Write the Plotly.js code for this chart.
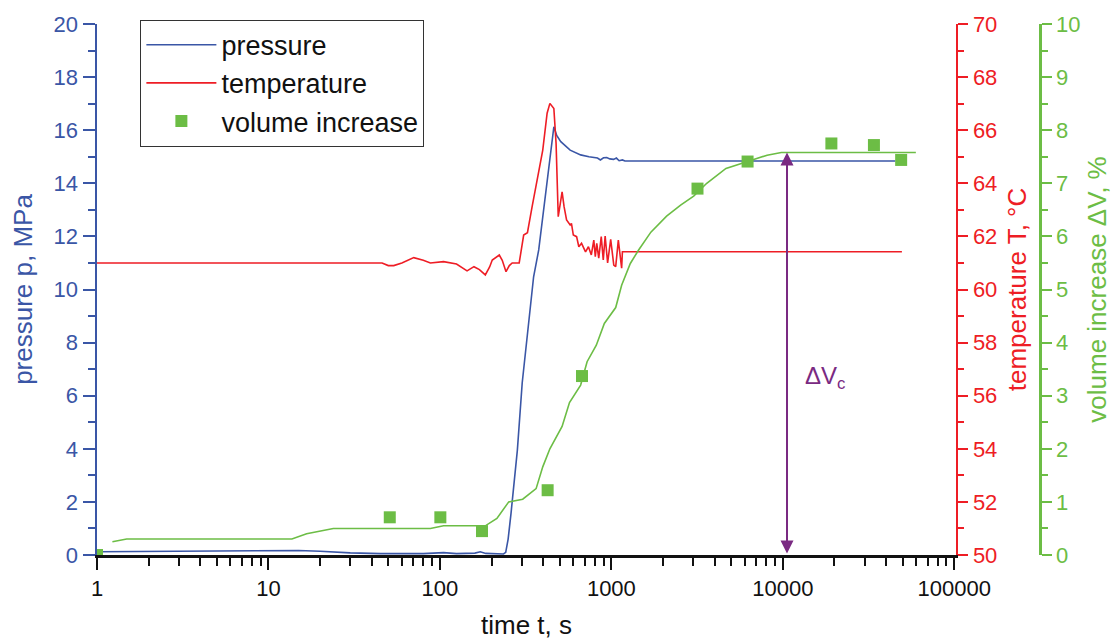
<!DOCTYPE html>
<html>
<head>
<meta charset="utf-8">
<script src="https://cdn.plot.ly/plotly-3.0.1.min.js"></script>
<style>html,body{margin:0;padding:0;background:#fff;}#chart{width:1113px;height:642px;}</style>
</head>
<body>
<div id="chart"></div>
<script>
// ---- data ----
var pressureTime = [1,5,10,15,20,30,45,80,105,125,160,172,185,235,242,250,260,283,302,324,352,377,420,462,480,507,575,662,740,794,830,863,900,940,980,1030,1070,1110,1160,1200,45300];
var pressureMPa  = [0.12,0.14,0.16,0.17,0.14,0.08,0.05,0.05,0.09,0.05,0.07,0.12,0.06,0.04,0.1,0.6,1.58,3.95,6.48,8.35,10.48,11.49,13.9,16.13,15.8,15.57,15.25,15.07,15.0,14.98,14.95,14.88,14.96,14.97,14.92,14.9,14.95,14.85,14.88,14.84,14.84];

var tempTime = [1,46,50,53.8,60,70.4,80,88,105,115,125,144,158,170,184,195,202,222,231,243,254,264,275,290,308,324,345,366,398,422,438,462,476,490,516,530,548,575,585,600,627,646,670,707,735,764,790,806,822,844,873,897,920,951,991,1033,1060,1098,1135,1148,1160,49500];
var tempC    = [61.0,61.0,60.9,60.9,61.0,61.2,61.1,61.0,61.05,61.0,60.96,60.70,60.86,60.75,60.55,60.85,61.11,61.3,61.1,60.67,60.9,61.0,61.01,61.0,62.05,62.14,63.12,64.0,65.25,66.64,67.01,66.82,65.5,62.74,63.68,63.12,62.62,62.43,62.49,62.05,61.99,61.61,61.74,61.42,61.61,61.3,61.86,61.24,61.74,61.18,61.99,61.11,62.01,61.0,61.89,60.92,60.86,61.86,60.86,60.8,61.42,61.42];

var volLineTime = [1.23,1.49,13.7,16.7,23.9,88,105,184,215,252,304,364,398,438,516,570,662,722,817,910,1060,1148,1290,1439,1700,2100,2535,3020,3600,4660,6230,8100,9800,59700];
var volLinePct  = [0.25,0.30,0.30,0.40,0.50,0.50,0.55,0.55,0.69,1.00,1.05,1.25,1.66,2.00,2.42,2.87,3.20,3.64,3.95,4.36,4.66,5.08,5.49,5.74,6.08,6.38,6.59,6.76,7.00,7.28,7.41,7.53,7.58,7.58];

var volPointTime = [1,51,100.6,176,425,674,3180,6230,19200,34000,49000];
var volPointPct  = [0,0.71,0.71,0.45,1.22,3.37,6.90,7.41,7.75,7.72,7.44];

var timeTickVals  = [1,10,100,1000,10000,100000];
var timeTickText  = ['1','10','100','1000','10000','100000'];

var deltaVcTime = 10580;      // time of the ΔVc arrow
var deltaVcRange = [0, 7.58]; // volume span of the arrow

// ---- styles ----
var BLUE = '#3a56a6', RED = '#ee1d25', GREEN = '#6cbd45', PURPLE = '#7a2a82';
var FONT = 'Liberation Sans, Arial, Helvetica, sans-serif';

var traces = [
  {x: volLineTime, y: volLinePct, yaxis: 'y3', mode: 'lines', line: {color: GREEN, width: 1.6}, showlegend: false, hoverinfo: 'skip'},
  {x: pressureTime, y: pressureMPa, yaxis: 'y', mode: 'lines', name: 'pressure', line: {color: BLUE, width: 1.6}},
  {x: tempTime, y: tempC, yaxis: 'y2', mode: 'lines', name: 'temperature', line: {color: RED, width: 1.6}},
  {x: volPointTime, y: volPointPct, yaxis: 'y3', mode: 'markers', name: 'volume increase', marker: {symbol: 'square', size: 12, color: GREEN}}
];

var layout = {
  width: 1113, height: 642,
  margin: {l: 97, r: 73, t: 24, b: 87},
  paper_bgcolor: '#fff', plot_bgcolor: '#fff',
  font: {family: FONT, color: '#000'},
  xaxis: {
    domain: [0, 0.9109],
    type: 'log', range: [0, 5.01],
    tickmode: 'array', tickvals: timeTickVals, ticktext: timeTickText,
    showgrid: false, zeroline: false,
    showline: true, linecolor: '#111', linewidth: 2.5,
    ticks: 'outside', ticklen: 12, tickwidth: 2, tickcolor: '#111',
    minor: {tickmode: 'linear', dtick: 'D1', ticks: 'outside', ticklen: 8, tickwidth: 2, tickcolor: '#111', showgrid: false},
    tickfont: {size: 22, color: '#111'},
    title: {text: 'time t, s', font: {size: 26, color: '#111'}, standoff: 16}
  },
  yaxis: {
    range: [0, 20], dtick: 2, showgrid: false, zeroline: false,
    showline: true, linecolor: BLUE, linewidth: 2.5,
    ticks: 'outside', ticklen: 12, tickwidth: 2, tickcolor: BLUE,
    minor: {dtick: 1, ticks: 'outside', ticklen: 7, tickwidth: 2, tickcolor: BLUE, showgrid: false},
    tickfont: {size: 22, color: BLUE},
    title: {text: 'pressure p, MPa', font: {size: 26, color: BLUE}, standoff: 14}
  },
  yaxis2: {
    overlaying: 'y', side: 'right', anchor: 'x',
    range: [50, 70], dtick: 2, showgrid: false, zeroline: false,
    showline: true, linecolor: RED, linewidth: 2.5,
    ticks: 'outside', ticklen: 10, tickwidth: 2, tickcolor: RED,
    minor: {dtick: 1, ticks: 'outside', ticklen: 6, tickwidth: 2, tickcolor: RED, showgrid: false},
    tickfont: {size: 22, color: RED},
    title: {text: 'temperature T, °C', font: {size: 26, color: RED}, standoff: 12}
  },
  yaxis3: {
    overlaying: 'y', side: 'right', anchor: 'free', position: 1,
    range: [0, 10], dtick: 1, showgrid: false, zeroline: false,
    showline: true, linecolor: GREEN, linewidth: 2.5,
    ticks: 'outside', ticklen: 10, tickwidth: 2, tickcolor: GREEN,
    minor: {dtick: 0.5, ticks: 'outside', ticklen: 6, tickwidth: 2, tickcolor: GREEN, showgrid: false},
    tickfont: {size: 22, color: GREEN},
    title: {text: 'volume increase ΔV, %', font: {size: 26, color: GREEN}, standoff: 8}
  },
  legend: {
    x: 0.046, y: 1.008, xanchor: 'left', yanchor: 'top',
    bgcolor: '#fff', bordercolor: '#333', borderwidth: 1,
    font: {size: 27, color: '#111'}, itemwidth: 70
  },
  annotations: [
    {xref: 'x', yref: 'y3', axref: 'x', ayref: 'y3',
     x: Math.log10(deltaVcTime), y: deltaVcRange[1], ax: Math.log10(deltaVcTime), ay: deltaVcRange[0],
     text: '', showarrow: true, arrowside: 'end+start', arrowhead: 2, arrowsize: 1.3, arrowwidth: 2, arrowcolor: PURPLE},
    {xref: 'paper', yref: 'paper', x: 0.7483, y: 0.335, xanchor: 'left', yanchor: 'middle',
     text: 'ΔV<sub>c</sub>', showarrow: false, font: {size: 24, color: PURPLE}}
  ],
  showlegend: true
};

Plotly.newPlot('chart', traces, layout, {displayModeBar: false, staticPlot: true});
</script>
</body>
</html>
